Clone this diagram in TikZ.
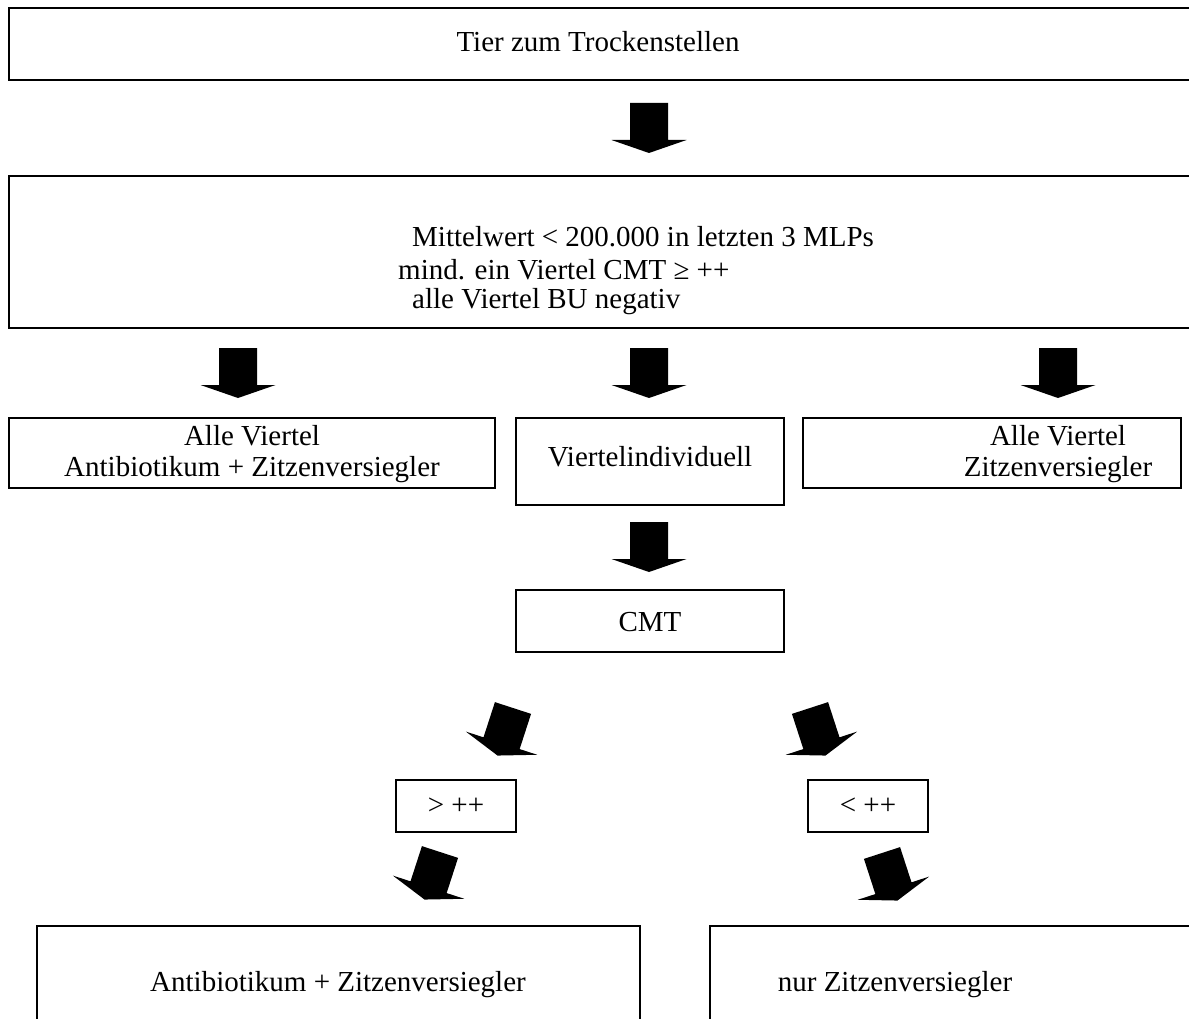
\documentclass[tikz,border=0pt]{standalone}
\usepackage{fontspec}
\setmainfont{Liberation Serif}
\begin{document}
\begin{tikzpicture}[x=1pt,y=-1pt,
  box/.style={draw, line width=1.5pt, inner sep=0pt},
  txt/.style={font=\fontsize{29}{31}\selectfont, inner sep=0pt, align=center},
  barrow/.pic={\fill (-19,0) -- (19,0) -- (19,37) -- (37.5,37) -- (0,50) -- (-37.5,37) -- (-19,37) -- cycle;}
]
\useasboundingbox (0,0) rectangle (1189,1019);
\clip (0,0) rectangle (1189,1019);
% top box
\node[box, minimum width=1200pt, minimum height=72pt] (A) at (609,44) {};
\node[txt] (At) at (598,42) {Tier zum Trockenstellen};
\pic at (649,103) {barrow};
% second box
\node[box, minimum width=1200pt, minimum height=152pt] (B) at (609,252) {};
\node[txt, anchor=west] (B1) at (412,237) {Mittelwert < 200.000 in letzten 3 MLPs};
\node[txt, anchor=west] (B2) at (398,270) {mind. ein Viertel CMT ≥ ++};
\node[txt, anchor=west] (B3) at (412,302) {alle Viertel BU negativ};
\pic at (238,348) {barrow};
\pic at (649,348) {barrow};
\pic at (1058,348) {barrow};
% third row
\node[box, minimum width=486pt, minimum height=70pt] (L) at (252,453) {};
\node[txt] (Lt) at (252,454) {Alle Viertel\\Antibiotikum + Zitzenversiegler};
\node[box, minimum width=268pt, minimum height=87pt] (M) at (650,461.5) {};
\node[txt] (Mt) at (650,457) {Viertelindividuell};
\node[box, minimum width=378pt, minimum height=70pt] (R) at (992,453) {};
\node[txt] (Rt) at (1058,454) {Alle Viertel\\Zitzenversiegler};
\pic at (649,522) {barrow};
% CMT
\node[box, minimum width=268pt, minimum height=62pt] (C) at (650,621) {};
\node[txt] (Ct) at (650,622) {CMT};
\pic[rotate=-18] at (513,708) {barrow};
\pic[rotate=18] at (810,708) {barrow};
% small boxes
\node[box, minimum width=120pt, minimum height=52pt] (G) at (456,806) {};
\node[txt] (Gt) at (456,806) {> ++};
\node[box, minimum width=120pt, minimum height=52pt] (K) at (868,806) {};
\node[txt] (Kt) at (868,806) {< ++};
\pic[rotate=-18] at (440,852) {barrow};
\pic[rotate=18] at (882,853) {barrow};
% bottom boxes
\node[box, minimum width=603pt, minimum height=150pt] (X) at (338.5,1001) {};
\node[txt] (Xt) at (338,985) {Antibiotikum + Zitzenversiegler};
\node[box, minimum width=600pt, minimum height=150pt] (Y) at (1010,1001) {};
\node[txt] (Yt) at (895,985) {nur Zitzenversiegler};
\end{tikzpicture}
\end{document}
